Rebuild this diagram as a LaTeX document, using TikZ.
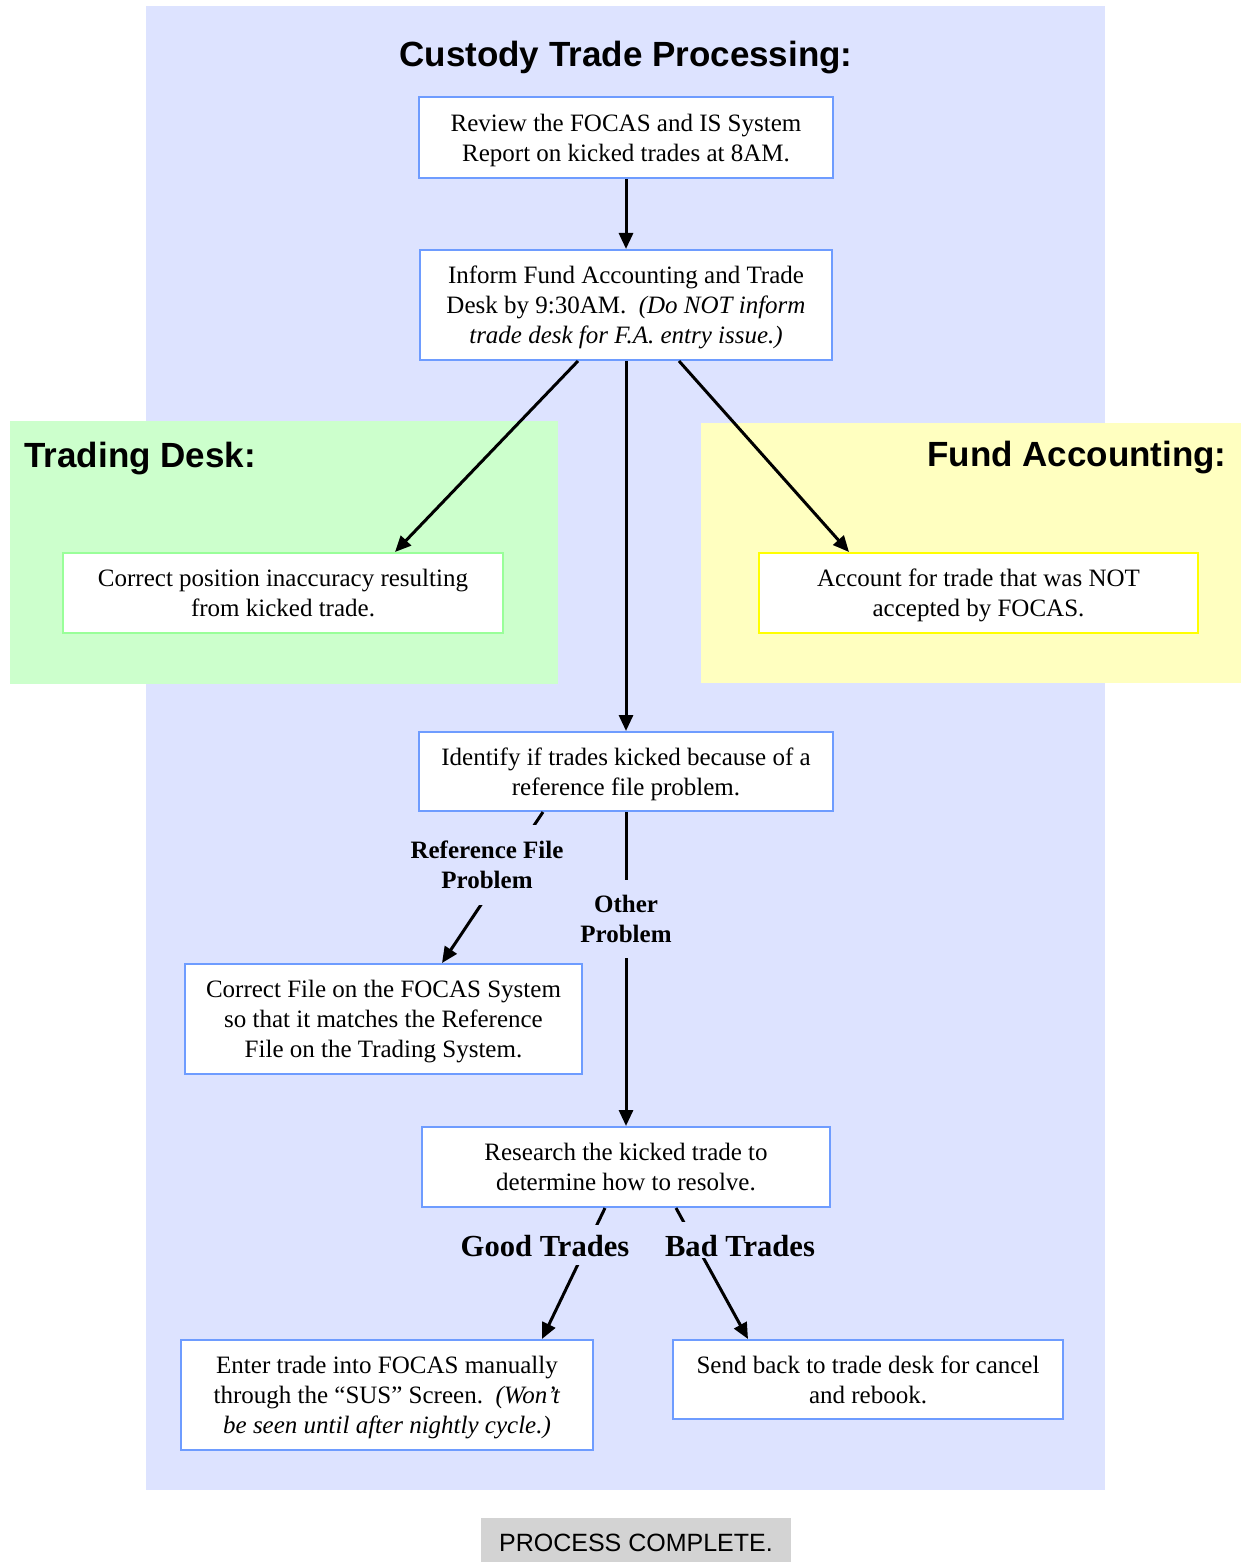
\documentclass[tikz,border=0pt]{standalone}
\usepackage{fontspec}
\setmainfont{Liberation Serif}
\newfontfamily\arialfont{Liberation Sans}
\usetikzlibrary{arrows.meta}

\definecolor{lanebg}{HTML}{DDE3FF}
\definecolor{deskbg}{HTML}{CCFFCC}
\definecolor{fundbg}{HTML}{FFFFC0}
\definecolor{stepblue}{HTML}{6E9CFF}
\definecolor{stepgreen}{HTML}{99FF99}
\definecolor{stepyellow}{HTML}{FFFF00}
\definecolor{donegray}{HTML}{D3D3D3}

\tikzset{
  stepbox/.style={draw=stepblue, fill=white, line width=1pt, inner sep=0pt,
    align=center, font=\fontsize{12.5}{15}\selectfont, text depth=-1.3pt},
  flow/.style={line width=1.5pt, -{Triangle[length=8pt,width=7pt]}},
  heading/.style={font=\arialfont\bfseries\fontsize{17.5}{21}\selectfont, inner sep=0pt},
  branch/.style={fill=lanebg, align=center, inner xsep=2pt, inner ysep=8pt,
    font=\bfseries\fontsize{12.5}{15}\selectfont},
  bigbranch/.style={fill=lanebg, anchor=base, inner xsep=1pt, inner ysep=1pt,
    font=\bfseries\fontsize{15.3}{18}\selectfont}
}

\begin{document}
\begin{tikzpicture}[x=0.5pt, y=-0.5pt]
\useasboundingbox (0,0) rectangle (1241,1562);

% swim lanes
\fill[lanebg] (146,6) rectangle (1105,1490);
\fill[deskbg] (10,421) rectangle (558,684);
\fill[fundbg] (701,423) rectangle (1241,683);

% lane headings
\node[heading] (title) at (626,58) {Custody Trade Processing:};
\node[heading, anchor=west] (deskhead) at (24,459) {Trading Desk:};
\node[heading, anchor=east] (fundhead) at (1227,458) {Fund Accounting:};

% process steps
\node[stepbox, minimum width=207pt, minimum height=40.5pt] (review) at (626,137.5)
  {Review the FOCAS and IS System\\Report on kicked trades at 8AM.};
\node[stepbox, minimum width=206pt, minimum height=55pt] (inform) at (626,305)
  {Inform Fund Accounting and Trade\\Desk by 9:30AM.\ \ \textit{(Do NOT inform}\\\textit{trade desk for F.A. entry issue.)}};
\node[stepbox, draw=stepgreen, minimum width=220pt, minimum height=40pt] (corrpos) at (283,593)
  {Correct position inaccuracy resulting\\from kicked trade.};
\node[stepbox, draw=stepyellow, minimum width=219.5pt, minimum height=40pt] (account) at (978.5,593)
  {Account for trade that was NOT\\accepted by FOCAS.};
\node[stepbox, minimum width=207pt, minimum height=39.5pt] (identify) at (626,771.5)
  {Identify if trades kicked because of a\\reference file problem.};
\node[stepbox, minimum width=198.5pt, minimum height=55pt] (corrfile) at (383.5,1019)
  {Correct File on the FOCAS System\\so that it matches the Reference\\File on the Trading System.};
\node[stepbox, minimum width=204pt, minimum height=40pt] (research) at (626,1167)
  {Research the kicked trade to\\determine how to resolve.};
\node[stepbox, minimum width=206pt, minimum height=55pt] (enter) at (387,1395)
  {Enter trade into FOCAS manually\\through the ``SUS'' Screen.\ \ \textit{(Won't}\\\textit{be seen until after nightly cycle.)}};
\node[stepbox, minimum width=195pt, minimum height=39.5pt] (sendback) at (868,1379.5)
  {Send back to trade desk for cancel\\and rebook.};

% connectors
\draw[flow] (review.south) -- (inform.north);
\draw[flow] ([xshift=-24pt]inform.south) -- ([xshift=56pt]corrpos.north);
\draw[flow] ([xshift=26.5pt]inform.south) -- ([xshift=-64.75pt]account.north);
\draw[flow] (inform.south) -- (identify.north);
\draw[flow] ([xshift=-41.5pt]identify.south) -- ([xshift=29.25pt]corrfile.north);
\draw[flow] (identify.south) -- (research.north);
\draw[flow] ([xshift=-10.5pt]research.south) -- ([xshift=77.5pt]enter.north);
\draw[flow] ([xshift=25pt]research.south) -- ([xshift=-60pt]sendback.north);

% branch labels
\node[branch] (reflabel) at (487,865) {Reference File\\Problem};
\node[branch, inner ysep=7.5pt] (otherlabel) at (626,919) {Other\\Problem};
\node[bigbranch, text height=14.5pt, text depth=3.5pt] (goodlabel) at (545,1256) {Good Trades};
\node[bigbranch, inner xsep=0pt, text height=16pt, text depth=0pt] (badlabel) at (740,1256) {Bad Trades};

% end marker
\fill[donegray] (481,1518) rectangle (791,1562);
\node[font=\arialfont\fontsize{12.5}{15}\selectfont, inner sep=0pt] (done) at (636,1543) {PROCESS COMPLETE.};
\end{tikzpicture}
\end{document}
